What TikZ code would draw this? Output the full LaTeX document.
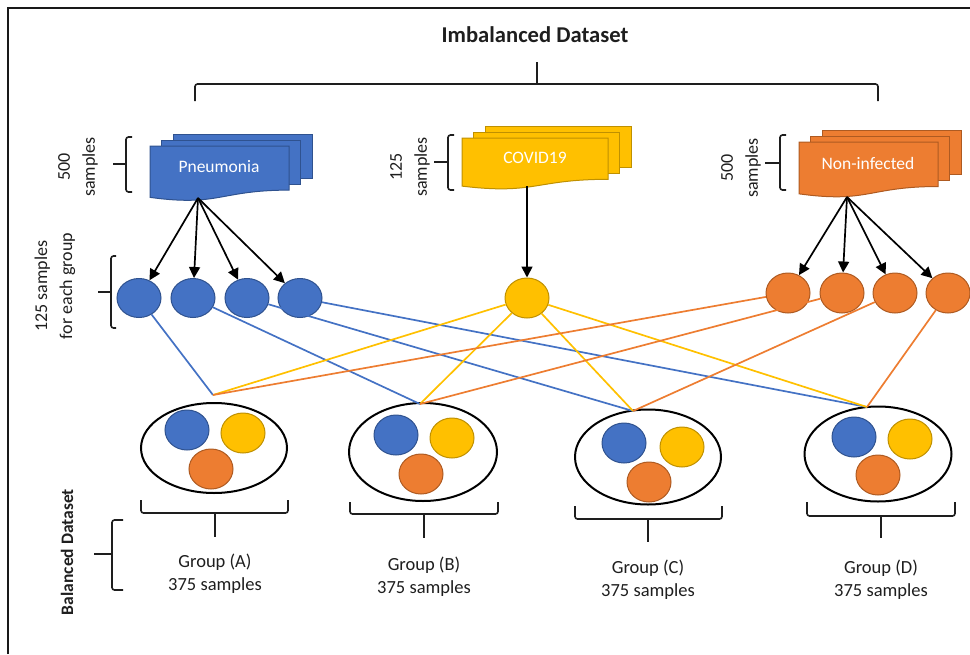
\documentclass[tikz,border=0pt]{standalone}
\usepackage{fontspec}
\setmainfont{Carlito}
\usetikzlibrary{shapes.geometric,arrows.meta}
\definecolor{cblue}{HTML}{4472C4}
\definecolor{cblueD}{HTML}{2F528F}
\definecolor{cyel}{HTML}{FFC000}
\definecolor{cyelD}{HTML}{BF9000}
\definecolor{corg}{HTML}{ED7D31}
\definecolor{corgD}{HTML}{AE5A21}
\definecolor{txt}{HTML}{1E1E1E}
\newcommand\mydocstack[6]{%
  % #1 x, #2 top y, #3 width, #4 height, #5 fill, #6 draw
  \filldraw[fill=#5,draw=#6,line width=1pt] ({#1+23},{#2-12}) rectangle ({#1+23+#3},{#2-12+0.8*#4});
  \filldraw[fill=#5,draw=#6,line width=1pt] ({#1+11.5},{#2-6}) rectangle ({#1+11.5+#3},{#2-6+0.8*#4});
  \filldraw[fill=#5,draw=#6,line width=1pt] (#1,#2) -- ({#1+#3},#2) -- ({#1+#3},{#2+0.802*#4})
     .. controls ({#1+0.5*#3},{#2+0.802*#4}) and ({#1+0.5*#3},{#2+1.107*#4}) .. (#1,{#2+0.934*#4}) -- cycle;
}
\begin{document}
\begin{tikzpicture}[x=1pt,y=-1pt,
  bc/.style={ellipse,fill=cblue,draw=cblueD,line width=1pt,minimum width=44pt,minimum height=39pt,inner sep=0pt},
  yc/.style={ellipse,fill=cyel,draw=cyelD,line width=1pt,minimum width=44pt,minimum height=39pt,inner sep=0pt},
  oc/.style={ellipse,fill=corg,draw=corgD,line width=1pt,minimum width=44pt,minimum height=39pt,inner sep=0pt},
  grp/.style={ellipse,draw=black,line width=2pt,inner sep=0pt},
  doclabel/.style={text=white,font=\fontsize{17.5}{20}\selectfont},
  lbl/.style={font=\fontsize{18.5}{23}\selectfont,align=center,text=txt},
  rlbl/.style={font=\fontsize{18}{25}\selectfont,align=center,text=txt,rotate=90},
  arr/.style={-{Triangle[length=11pt,width=11pt]},line width=1.7pt},
  bl/.style={cblue,line width=1.7pt},
  yl/.style={cyel,line width=1.7pt},
  ol/.style={corg,line width=1.7pt},
  brk/.style={line width=1.6pt,rounded corners=2.5pt,txt}
]
\useasboundingbox (0,0) rectangle (970,654);
% frame
\draw[line width=2.6pt,black!90] (8,654) -- (8,8) -- (970,8);

% title and top brace
\node[font=\fontsize{22.6}{26}\selectfont\bfseries,text=txt] (title) at (535,35) {Imbalanced Dataset};
\draw[brk] (195,101) -- (195,84) -- (878,84) -- (878,101);
\draw[brk] (537,84) -- (537,62);

% document stacks
\mydocstack{150}{146}{139}{55}{cblue}{cblueD}
\node[doclabel] (pn) at (219,167) {Pneumonia};
\mydocstack{462}{138}{146}{51.5}{cyel}{cyelD}
\node[doclabel] (cv) at (535,158) {COVID19};
\mydocstack{799}{142}{139}{55.5}{corg}{corgD}
\node[doclabel] (ni) at (868,163) {Non-infected};
\coordinate (pnb) at (198,198);
\coordinate (cvb) at (527,186);
\coordinate (nib) at (847,197);

% sample brackets and labels
\draw[brk] (132,137) -- (126,137) -- (126,192) -- (132,192);
\draw[brk] (113,164) -- (126,164);
\node[rlbl] (s1) at (78,167) {500\\samples};
\draw[brk] (454,135) -- (448,135) -- (448,190) -- (454,190);
\draw[brk] (434,162) -- (448,162);
\node[rlbl] (s2) at (410,167) {125\\samples};
\draw[brk] (786,135) -- (780,135) -- (780,190) -- (786,190);
\draw[brk] (765,163) -- (780,163);
\node[rlbl] (s3) at (741,168) {500\\samples};

% row of circles
\node[bc] (b1) at (139,298) {};
\node[bc] (b2) at (193,298) {};
\node[bc] (b3) at (247,298) {};
\node[bc] (b4) at (300,298) {};
\node[yc,minimum height=40pt] (y1) at (527,298) {};
\node[oc,minimum height=40pt] (o1) at (788,293) {};
\node[oc,minimum height=40pt] (o2) at (842,293) {};
\node[oc,minimum height=40pt] (o3) at (895,293) {};
\node[oc,minimum height=40pt] (o4) at (948,293) {};

\draw[brk] (116,256) -- (111,256) -- (111,328) -- (116,328);
\draw[brk] (98,292) -- (111,292);
\node[rlbl] (s4) at (55,286) {125 samples\\for each group};

% arrows
\draw[arr] (pnb) -- (b1);
\draw[arr] (pnb) -- (b2);
\draw[arr] (pnb) -- (b3);
\draw[arr] (pnb) -- (b4);
\draw[arr] (cvb) -- (y1);
\draw[arr] (nib) -- (o1);
\draw[arr] (nib) -- (o2);
\draw[arr] (nib) -- (o3);
\draw[arr] (nib) -- (o4);

% group ellipses
\node[grp,minimum width=146pt,minimum height=90pt] (gA) at (214,448) {};
\node[grp,minimum width=148pt,minimum height=98pt] (gB) at (423,452) {};
\node[grp,minimum width=146pt,minimum height=95pt] (gC) at (648,457) {};
\node[grp,minimum width=147pt,minimum height=95pt] (gD) at (878,454) {};

\node[bc,minimum height=40pt] (aB) at (187,430) {};
\node[yc,minimum height=40pt] (aY) at (243,433) {};
\node[oc,minimum height=40pt] (aO) at (211,469) {};
\node[bc,minimum height=40pt] (bB) at (396,435) {};
\node[yc,minimum height=40pt] (bY) at (452,438) {};
\node[oc,minimum height=40pt] (bO) at (421,474) {};
\node[bc,minimum height=40pt] (cB) at (624,443) {};
\node[yc,minimum height=40pt] (cY) at (682,447) {};
\node[oc,minimum height=40pt] (cO) at (649,482) {};
\node[bc,minimum height=40pt] (dB) at (854,437) {};
\node[yc,minimum height=40pt] (dY) at (910,439) {};
\node[oc,minimum height=40pt] (dO) at (878,475) {};

% meeting points
\coordinate (mA) at (213,395);
\coordinate (mB) at (420,404);
\coordinate (mC) at (633,411);
\coordinate (mD) at (867,407);

% connectors
\draw[bl] (b1) -- (mA);
\draw[bl] (b2) -- (mB);
\draw[bl] (b3) -- (mC);
\draw[bl] (b4) -- (mD);
\draw[yl] (y1) -- (mA);
\draw[yl] (y1) -- (mB);
\draw[yl] (y1) -- (mC);
\draw[yl] (y1) -- (mD);
\draw[ol] (o1) -- (mA);
\draw[ol] (o2) -- (mB);
\draw[ol] (o3) -- (mC);
\draw[ol] (o4) -- (mD);

% group braces
\draw[brk] (141,500) -- (141,513) -- (288,513) -- (288,500);
\draw[brk] (215,513) -- (215,537);
\draw[brk] (350,502) -- (350,514) -- (498,514) -- (498,502);
\draw[brk] (424,514) -- (424,538);
\draw[brk] (575,506) -- (575,519) -- (722,519) -- (722,506);
\draw[brk] (648,519) -- (648,542);
\draw[brk] (807,502) -- (807,516) -- (955,516) -- (955,502);
\draw[brk] (881,516) -- (881,538);

% group labels
\node[lbl] (tA) at (215,574) {Group (A)\\375 samples};
\node[lbl] (tB) at (424,577) {Group (B)\\375 samples};
\node[lbl] (tC) at (648,580) {Group (C)\\375 samples};
\node[lbl] (tD) at (881,580) {Group (D)\\375 samples};

% balanced dataset
\draw[brk] (123,520) -- (112,520) -- (112,590) -- (123,590);
\draw[brk] (94,554) -- (112,554);
\node[font=\fontsize{17.5}{20}\selectfont\bfseries,text=txt,rotate=90] (bal) at (67,552) {Balanced Dataset};
\end{tikzpicture}
\end{document}
